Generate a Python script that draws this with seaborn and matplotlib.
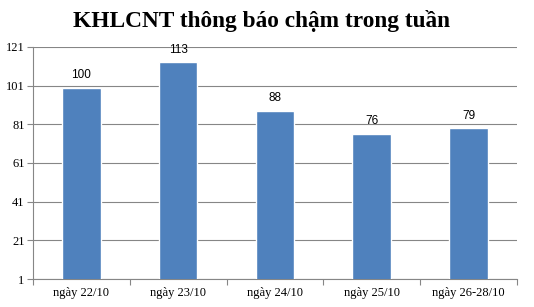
import matplotlib
matplotlib.use("Agg")
import matplotlib.pyplot as plt
import seaborn as sns
import pandas as pd
import numpy as np

categories = ["ngày 22/10", "ngày 23/10", "ngày 24/10", "ngày 25/10", "ngày 26-28/10"]
values = [100, 113, 88, 76, 79]
yticks = [1, 21, 41, 61, 81, 101, 121]
title = "KHLCNT thông báo chậm trong tuần"

sns.set_theme(style="white")
plt.rcParams["font.family"] = ["Liberation Serif", "DejaVu Serif"]

df = pd.DataFrame({"cat": categories, "val": values})

fig = plt.figure(figsize=(5.34, 3.07), dpi=100)
ax = fig.add_axes([0.0618, 0.0912, 0.906, 0.756])

sns.barplot(data=df, x="cat", y="val", color="#4F81BD", saturation=1, width=0.4, ax=ax, zorder=3)

ax.set_ylim(1, 121)
ax.set_xlim(-0.5, len(categories) - 0.5)
ax.set_yticks(yticks)
ax.set_yticklabels([str(t) for t in yticks], fontsize=9, color="black")
ax.grid(axis="y", color="#868686", linewidth=0.8, zorder=0)
ax.set_axisbelow(True)
ax.set_xlabel("")
ax.set_ylabel("")

for s in ["top", "right"]:
    ax.spines[s].set_visible(False)
for s in ["left", "bottom"]:
    ax.spines[s].set_color("#868686")
    ax.spines[s].set_linewidth(0.8)

ax.tick_params(axis="y", left=True, length=4, color="#868686", width=0.8, pad=2)
ax.tick_params(axis="x", which="major", length=0, pad=6, labelsize=9, labelcolor="black")
ax.set_xticks(np.arange(-0.5, len(categories), 1.0), minor=True)
ax.tick_params(axis="x", which="minor", bottom=True, length=4, color="#868686", width=0.8)

for i, v in enumerate(values):
    ax.text(i, v + 6.5, str(v), ha="center", va="center", fontsize=8.5,
            family=["Liberation Sans", "DejaVu Sans"], color="black")

fig.text(0.49, 0.93, title, ha="center", va="center", fontsize=16.8, fontweight="bold", color="black")

fig.savefig("out.png", dpi=100, facecolor="white")
